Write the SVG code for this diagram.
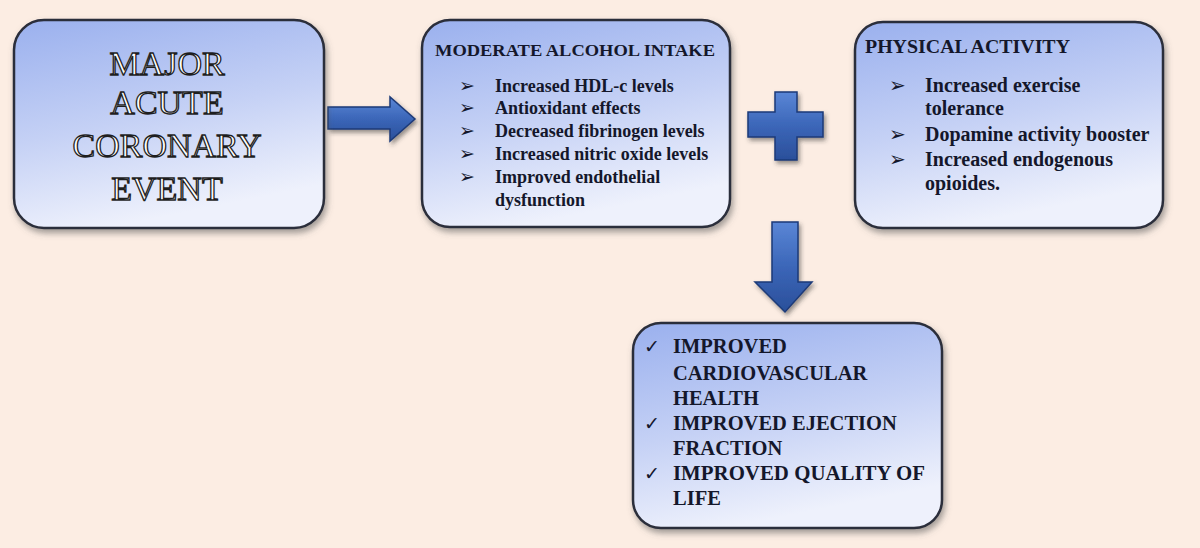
<svg xmlns="http://www.w3.org/2000/svg" width="1200" height="548" viewBox="0 0 1200 548">
<style>
.box{fill:url(#boxg);stroke:#2b2d3a;stroke-width:2.5;filter:url(#sh)}
.t{font-family:"Liberation Serif","Times New Roman",serif;font-weight:bold;fill:#14172b}
.b{font-family:"DejaVu Sans",sans-serif;fill:#14172b}
.big{font-family:"Liberation Serif","Times New Roman",serif;font-size:34px;fill:#ffffff;stroke:#1e1e1e;stroke-width:1.3;text-anchor:middle}
.arr{fill:url(#arrg);stroke:#1d3a78;stroke-width:1.5;filter:url(#sh2)}
</style>
<defs>
<linearGradient id="boxg" x1="0" y1="0" x2="0.3" y2="1">
<stop offset="0" stop-color="#9ab0ee"/>
<stop offset="0.55" stop-color="#c5d1f5"/>
<stop offset="1" stop-color="#eef1fc"/>
</linearGradient>
<linearGradient id="arrg" x1="0" y1="0" x2="0" y2="1">
<stop offset="0" stop-color="#5a86d6"/>
<stop offset="0.5" stop-color="#3b66b8"/>
<stop offset="1" stop-color="#2a4f9a"/>
</linearGradient>
<filter id="sh" x="-10%" y="-10%" width="120%" height="125%">
<feDropShadow dx="2" dy="4" stdDeviation="3" flood-color="#555" flood-opacity="0.55"/>
</filter>
<filter id="sh2" x="-20%" y="-20%" width="150%" height="150%">
<feDropShadow dx="2" dy="3" stdDeviation="2" flood-color="#333" flood-opacity="0.5"/>
</filter>
</defs>
<rect width="1200" height="548" fill="#fcede3"/>

<g id="connectors">
<path class="arr" d="M328,107 H390 V97 L415,119 L390,141 V129 H328 Z"/>
<path class="arr" d="M775,92 H797 V112 H823 V137 H797 V160 H775 V137 H748 V112 H775 Z"/>
<path class="arr" d="M772,222 H798 V282 H812 L785,312 L755,282 H772 Z"/>
</g>

<g id="node-event">
<rect class="box" x="14" y="20" width="310" height="208" rx="30"/>
<text class="big" x="167" y="75">MAJOR</text>
<text class="big" x="167" y="114">ACUTE</text>
<text class="big" x="167" y="157">CORONARY</text>
<text class="big" x="167" y="200">EVENT</text>
</g>

<g id="node-alcohol">
<rect class="box" x="422" y="20" width="308" height="207" rx="28"/>
<text class="t" x="435" y="56" font-size="16" textLength="280" lengthAdjust="spacingAndGlyphs">MODERATE ALCOHOL INTAKE</text>
<g font-size="19">
<text class="b" x="459" y="92">➢</text>
<text class="b" x="459" y="114">➢</text>
<text class="b" x="459" y="137">➢</text>
<text class="b" x="459" y="160">➢</text>
<text class="b" x="459" y="183">➢</text>
</g>
<g font-size="18">
<text class="t" x="495" y="92">Increased HDL-c levels</text>
<text class="t" x="495" y="114">Antioxidant effects</text>
<text class="t" x="495" y="137">Decreased fibrinogen levels</text>
<text class="t" x="495" y="160">Increased nitric oxide levels</text>
<text class="t" x="495" y="183">Improved endothelial</text>
<text class="t" x="495" y="206">dysfunction</text>
</g>
</g>

<g id="node-physical">
<rect class="box" x="855" y="22" width="308" height="206" rx="28"/>
<text class="t" x="865" y="53" font-size="18" textLength="205" lengthAdjust="spacingAndGlyphs">PHYSICAL ACTIVITY</text>
<g font-size="20">
<text class="b" x="889" y="92">➢</text>
<text class="b" x="889" y="141">➢</text>
<text class="b" x="889" y="166">➢</text>
</g>
<g font-size="20">
<text class="t" x="925" y="92">Increased exercise</text>
<text class="t" x="925" y="115">tolerance</text>
<text class="t" x="925" y="141">Dopamine activity booster</text>
<text class="t" x="925" y="166">Increased endogenous</text>
<text class="t" x="925" y="190">opioides.</text>
</g>
</g>

<g id="node-outcome">
<rect class="box" x="633" y="323" width="309" height="205" rx="28"/>
<g font-size="19">
<text class="b" x="644" y="353">✓</text>
<text class="b" x="644" y="430">✓</text>
<text class="b" x="644" y="480">✓</text>
</g>
<g font-size="20.5">
<text class="t" x="673" y="353">IMPROVED</text>
<text class="t" x="673" y="380">CARDIOVASCULAR</text>
<text class="t" x="673" y="405">HEALTH</text>
<text class="t" x="673" y="430">IMPROVED EJECTION</text>
<text class="t" x="673" y="455">FRACTION</text>
<text class="t" x="673" y="480" textLength="252" lengthAdjust="spacingAndGlyphs">IMPROVED QUALITY OF</text>
<text class="t" x="673" y="505">LIFE</text>
</g>
</g>
</svg>
